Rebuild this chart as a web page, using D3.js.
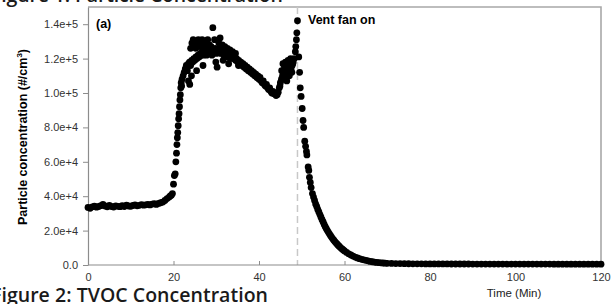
<!DOCTYPE html>
<html>
<head>
<meta charset="UTF-8">
<title>Particle concentration</title>
<style>
  body { margin: 0; background: #fff; }
  svg { display: block; }
</style>
<script src="https://cdn.jsdelivr.net/npm/d3@7/dist/d3.min.js"></script>
</head>
<body>
<script>
// time (min) and particle concentration (thousands #/cm3)
const minutes = [
  // baseline
  0, 0.5, 1, 1.5, 2, 2.5, 3, 3.5, 4, 4.5, 5, 5.5, 6, 6.5, 7, 7.5, 8, 8.5, 9, 9.5,
  10, 10.5, 11, 11.5, 12, 12.5, 13, 13.5, 14, 14.5, 15, 15.5, 16, 16.5, 17, 17.5, 18, 18.5, 19, 19.25,
  // cooking rise
  19.5, 19.75, 20.0, 20.2, 20.4, 20.55, 20.7, 20.8, 20.9, 21.0, 21.1, 21.2, 21.3, 21.4, 21.5, 21.6, 21.7, 21.8, 21.9, 22.0,
  // plateau, main band
  22.25, 22.5, 22.75, 23, 23.25, 23.5, 23.75, 24, 24.25, 24.5, 24.75, 25, 25.25, 25.5, 25.75, 26, 26.25, 26.5, 26.75, 27,
  27.25, 27.5, 27.75, 28, 28.25, 28.5, 28.75, 29, 29.25, 29.5, 29.75, 30, 30.25, 30.5, 30.75, 31, 31.25, 31.5, 31.75, 32,
  32.25, 32.5, 32.75, 33, 33.25, 33.5, 33.75, 34, 34.25, 34.5, 34.75, 35, 35.25, 35.5, 35.75, 36, 36.25, 36.5, 36.75, 37,
  37.25, 37.5, 37.75, 38, 38.25, 38.5, 38.75, 39, 39.25, 39.5, 39.75, 40, 40.25, 40.5, 40.75, 41, 41.25, 41.5, 41.75, 42,
  42.25, 42.5, 42.75, 43, 43.25, 43.5, 43.75, 44, 44.25, 44.5, 44.75, 45, 45.25, 45.5, 45.75, 46, 46.25, 46.5, 46.75, 47,
  47.25, 47.5, 47.75, 48, 48.25, 48.5,
  // plateau, scatter
  23.5, 23.8, 24.2, 24.0, 24.3, 24.6, 24.9, 25.2, 25.5, 25.8, 26.1, 26.4, 26.7, 27.0, 27.3, 27.6, 28.0, 28.4, 28.8, 25.4,
  26.9, 29.2, 29.6, 30.2, 30.6, 30.9, 31.4, 32.0, 32.6, 33.2, 33.8, 34.5, 29.9, 31.6, 32.9, 35.2,
  44.9, 45.3, 45.6, 45.9, 46.2, 46.5, 46.8, 47.1, 47.4, 47.7, 47.9, 46.0, 47.2,
  // spike
  48.6, 48.75, 48.85, 49.0,
  // vent fan on, fall
  49.3, 49.5, 49.65, 49.85, 50.1, 50.3, 50.45, 50.7, 50.9, 51.1, 51.2, 51.5, 51.65, 51.8, 52.0, 52.2,
  52.5, 52.75, 53, 53.25, 53.5, 53.75, 54, 54.25, 54.5, 54.75, 55, 55.25, 55.5, 55.75, 56, 56.25, 56.5, 56.75, 57, 57.25,
  57.5, 57.75, 58, 58.25, 58.5, 58.75, 59, 59.25, 59.5, 59.75, 60,
  60.5, 61, 61.5, 62, 62.5, 63, 63.5, 64, 64.5, 65, 65.5, 66, 66.5, 67, 67.5, 68, 68.5, 69, 69.5, 70,
  // tail
  71, 72, 73, 74, 75, 76, 77, 78, 79, 80, 81, 82, 83, 84, 85, 86, 87, 88, 89, 90,
  91, 92, 93, 94, 95, 96, 97, 98, 99, 100, 101, 102, 103, 104, 105, 106, 107, 108, 109, 110,
  111, 112, 113, 114, 115, 116, 117, 118, 119, 120
];
const particlesK = [
  33.5, 33.0, 33.8, 34.2, 33.6, 34.0, 34.5, 35.2, 34.3, 33.8, 34.6, 34.0, 33.7, 34.4, 34.1, 33.9, 34.5, 34.0, 34.8, 34.3,
  34.1, 34.6, 34.9, 34.4, 34.7, 35.1, 34.8, 35.0, 35.3, 34.9, 35.4, 35.6, 35.2, 35.8, 36.2, 36.6, 37.5, 38.6, 39.5, 40.2,
  40.5, 41.5, 47, 52, 53, 60, 65, 70, 74, 77, 81, 85, 88, 92, 96, 99, 103, 106, 104, 108,
  110, 112, 114, 116, 113, 117, 118, 116, 119, 118, 120, 119, 121, 120, 122, 121, 123, 122, 124, 122,
  123, 125, 122, 124, 123, 125, 124, 122, 125, 124, 126, 123, 125, 124, 126, 123, 125, 124, 122, 124,
  123, 121, 123, 122, 120, 122, 121, 120, 121, 119, 120, 118, 119, 117, 118, 116, 117, 115, 116, 114,
  115, 113, 114, 112, 113, 111, 112, 110, 111, 109, 110, 108, 109, 107, 106, 107, 105, 104, 105, 103,
  102, 103, 101, 100, 101, 99.5, 100, 98.5, 99, 100.5, 103, 106, 108, 110, 112, 111, 113, 112, 114, 113,
  115, 114, 116, 118, 120, 124,
  107, 105, 110, 126, 129, 131, 128, 126, 130, 131, 127, 129, 131, 130, 127, 129, 131, 128, 127, 113,
  116, 138, 131, 115, 129, 132, 128, 127, 126, 125, 124, 123, 118, 119, 117, 116,
  104, 113, 117, 108, 118, 107, 119, 110, 120, 112, 117, 115, 117,
  127, 131, 135, 142,
  121, 112, 103, 98, 91, 84, 80, 72, 69, 66, 64, 57, 55, 51, 48, 45,
  41.5, 39.5, 37.5, 35.5, 34, 32.3, 30.8, 29.3, 27.8, 26.3, 25, 23.6, 22.3, 21.1, 20, 19, 18, 17, 16.1, 15.2,
  14.4, 13.6, 12.9, 12.2, 11.5, 10.9, 10.3, 9.7, 9.2, 8.7, 8.2,
  7.3, 6.5, 5.8, 5.2, 4.6, 4.1, 3.7, 3.3, 3.0, 2.7, 2.4, 2.1, 1.9, 1.7, 1.5, 1.4, 1.25, 1.15, 1.05, 0.95,
  0.9, 0.85, 0.8, 0.75, 0.72, 0.7, 0.68, 0.66, 0.65, 0.63, 0.62, 0.61, 0.6, 0.6, 0.59, 0.58, 0.58, 0.57, 0.57, 0.56,
  0.56, 0.55, 0.55, 0.55, 0.54, 0.54, 0.54, 0.53, 0.53, 0.53, 0.52, 0.52, 0.52, 0.52, 0.51, 0.51, 0.51, 0.51, 0.5, 0.5,
  0.5, 0.5, 0.5, 0.5, 0.5, 0.5, 0.5, 0.5, 0.5, 0.5
];

const xTicks = [0, 20, 40, 60, 80, 100, 120];
const yTicks = [0, 20000, 40000, 60000, 80000, 100000, 120000, 140000];
const ventOnMin = 49;

const width = 616, height = 304;
const mLeft = 88, mRight = 601, mTop = 7, mBottom = 265;

const svg = d3.select("body").append("svg")
  .attr("width", width)
  .attr("height", height);

const x = d3.scaleLinear().domain([0, 120]).range([mLeft, mRight]);
const y = d3.scaleLinear().domain([0, 150000]).range([mBottom, mTop]);

// frame (top / right)
svg.append("path")
  .attr("d", `M${mLeft},${mTop}H${mRight}V${mBottom}`)
  .attr("fill", "none")
  .attr("stroke", "#a8a8a8")
  .attr("stroke-width", 1.6);

// vent fan marker
svg.append("line")
  .attr("x1", x(ventOnMin)).attr("x2", x(ventOnMin))
  .attr("y1", mTop).attr("y2", mBottom)
  .attr("stroke", "#c8c8c8")
  .attr("stroke-width", 1.5)
  .attr("stroke-dasharray", "7,4");

// axes
const yFmt = d => d === 0 ? "0.0" : d3.format(".1e")(d);
const gy = svg.append("g")
  .attr("transform", `translate(${mLeft},0)`)
  .call(d3.axisLeft(y).tickValues(yTicks).tickFormat(yFmt).tickSize(5).tickPadding(5).tickSizeOuter(0));
const gx = svg.append("g")
  .attr("transform", `translate(0,${mBottom})`)
  .call(d3.axisBottom(x).tickValues(xTicks).tickSize(-4).tickPadding(7).tickSizeOuter(0));

[gy, gx].forEach(g => {
  g.select(".domain").attr("stroke", "#8c8c8c").attr("stroke-width", 1.2);
  g.selectAll(".tick line").attr("stroke", "#8c8c8c");
  g.selectAll(".tick text")
    .attr("fill", "#333")
    .style("font-family", "Liberation Sans, Arial, sans-serif")
    .style("font-size", "11px");
});
gx.select(".domain").attr("d", `M${mLeft},0H${mRight}`);
gx.selectAll(".tick text").attr("y", 8);

// data points
const pts = minutes.map((t, i) => [t, particlesK[i] * 1000]);
svg.append("g")
  .selectAll("circle")
  .data(pts)
  .join("circle")
  .attr("cx", d => x(d[0]))
  .attr("cy", d => y(d[1]))
  .attr("r", 3.4)
  .attr("fill", "#000");

// labels
const boldArial = "Liberation Sans, Arial, sans-serif";
svg.append("text")
  .attr("x", 96).attr("y", 28)
  .style("font-family", boldArial).style("font-weight", "bold").style("font-size", "12.5px")
  .text("(a)");
svg.append("text")
  .attr("x", 308).attr("y", 24)
  .style("font-family", boldArial).style("font-weight", "bold").style("font-size", "12.5px")
  .text("Vent fan on");

const yt = svg.append("text")
  .attr("transform", "translate(27,137) rotate(-90)")
  .attr("text-anchor", "middle")
  .style("font-family", boldArial).style("font-weight", "bold").style("font-size", "12.5px");
yt.append("tspan").text("Particle concentration (#/cm");
yt.append("tspan").attr("dy", -5).style("font-size", "8px").text("3");
yt.append("tspan").attr("dy", 5).text(")");

svg.append("text")
  .attr("x", 514).attr("y", 297)
  .attr("text-anchor", "middle")
  .style("font-family", boldArial).style("font-size", "11.5px")
  .attr("fill", "#222")
  .text("Time (Min)");

// figure captions cut by the crop
svg.append("text")
  .attr("x", -9).attr("y", 2)
  .attr("textLength", 292).attr("lengthAdjust", "spacing")
  .style("font-family", "Open Sans, sans-serif").style("font-weight", "600").style("font-size", "19.5px")
  .attr("fill", "#1a1a1a")
  .text("Figure 1: Particle Concentration");
svg.append("text")
  .attr("x", -9).attr("y", 302)
  .attr("textLength", 277).attr("lengthAdjust", "spacing")
  .style("font-family", "Open Sans, sans-serif").style("font-weight", "600").style("font-size", "19.5px")
  .attr("fill", "#1a1a1a")
  .text("Figure 2: TVOC Concentration");
</script>
</body>
</html>
